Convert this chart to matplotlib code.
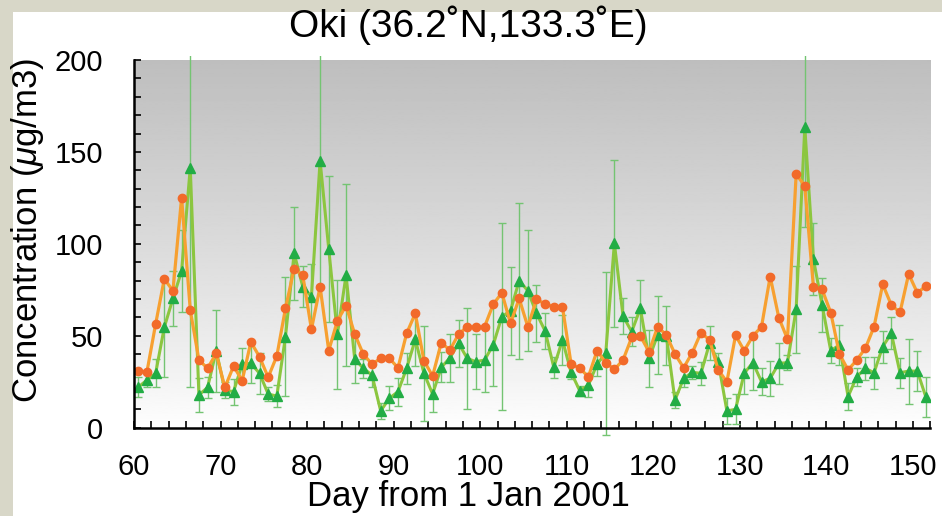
import numpy as np
import matplotlib
matplotlib.use("Agg")
import matplotlib.pyplot as plt
from matplotlib.patches import Rectangle
from matplotlib.ticker import MultipleLocator

plt.rcParams['font.family'] = ['Liberation Sans', 'DejaVu Sans']
plt.rcParams['mathtext.fontset'] = 'custom'
plt.rcParams['mathtext.it'] = 'Liberation Sans:italic'
plt.rcParams['mathtext.rm'] = 'Liberation Sans'

# daily means, day 60 .. 151 (plotted at mid-day)
days = np.arange(60.5, 152.0, 1.0)

model = [30.8, 30.5, 56.4, 80.9, 74.5, 125.1, 64.0, 36.8, 32.3, 40.4,
         21.9, 33.5, 25.6, 46.6, 38.6, 27.4, 39.0, 64.9, 86.5, 82.9,
         53.5, 76.7, 41.9, 58.2, 66.4, 50.9, 39.9, 34.6, 37.7, 37.7,
         32.6, 51.3, 62.2, 36.4, 28.1, 46.2, 42.2, 50.9, 54.9, 54.6,
         54.9, 67.1, 73.4, 56.7, 70.3, 54.9, 69.8, 67.3, 65.8, 65.8,
         34.6, 32.3, 27.7, 41.9, 35.4, 31.7, 36.8, 49.1, 49.9, 41.3,
         54.9, 50.4, 40.1, 32.6, 40.8, 51.7, 47.7, 31.4, 25.0, 50.2,
         41.9, 49.9, 54.9, 82.2, 59.8, 48.2, 137.8, 131.6, 76.3, 75.2,
         62.6, 40.1, 31.4, 36.8, 43.2, 54.9, 78.0, 66.7, 62.7, 83.6,
         73.4, 77.0]

obs = [22.1, 25.9, 29.6, 54.6, 70.3, 85.2, 141.4, 17.8, 21.9, 41.8,
       20.5, 19.6, 34.6, 35.0, 29.6, 18.3, 17.2, 49.5, 94.8, 76.7,
       71.3, 145.2, 97.2, 50.9, 83.0, 37.3, 32.3, 28.6, 9.1, 16.0,
       19.6, 32.3, 48.0, 29.6, 18.3, 32.8, 38.0, 45.9, 37.7, 35.9,
       36.8, 45.0, 60.4, 63.6, 80.0, 74.5, 62.2, 52.6, 32.8, 47.7,
       30.1, 20.1, 23.2, 34.6, 40.4, 100.3, 60.7, 52.2, 64.9, 37.7,
       50.4, 50.0, 15.0, 26.8, 30.1, 29.6, 45.9, 35.9, 9.1, 10.0,
       29.6, 35.4, 25.0, 26.8, 35.0, 35.4, 64.4, 163.4, 91.6, 66.7,
       41.9, 45.0, 16.9, 27.7, 32.3, 29.9, 44.1, 51.3, 29.9, 30.8,
       30.8, 16.5]

obs_err = [5.3, 3.5, 7.5, 27.0, 15.0, 22.4, 119.0, 9.2, 5.9, 22.2,
           4.5, 7.0, 8.6, 10.6, 11.0, 3.6, 6.1, 32.4, 25.4, 11.1,
           17.8, 67.6, 39.6, 29.6, 49.4, 13.0, 5.2, 6.6, 4.1, 6.5,
           7.7, 8.5, 14.5, 25.9, 9.6, 8.2, 13.2, 12.7, 27.5, 15.0,
           17.2, 22.3, 51.0, 24.0, 42.4, 32.9, 15.6, 9.8, 5.6, 13.4,
           3.4, 2.7, 6.3, 6.4, 44.5, 45.5, 10.0, 8.0, 15.7, 15.4,
           21.2, 16.0, 4.5, 4.5, 3.7, 6.4, 9.2, 4.5, 7.3, 8.2,
           11.3, 15.0, 7.3, 9.5, 11.0, 4.0, 23.6, 54.0, 19.6, 14.8,
           6.8, 10.9, 7.2, 5.0, 6.3, 8.6, 8.7, 8.7, 8.2, 17.7,
           10.7, 10.9]

fig = plt.figure(figsize=(9.42, 5.16), dpi=100, facecolor='#d8d7c8')
fig.patches.append(Rectangle((13 / 942, 0), 1, 1 - 12 / 516, transform=fig.transFigure,
                             facecolor='white', edgecolor='none', zorder=-5))

ax = fig.add_axes([134 / 942, 1 - 427.7 / 516, (930.3 - 134) / 942, (427.7 - 60) / 516])
ax.set_facecolor('none')
ax.set_xlim(60, 152)
ax.set_ylim(0, 200)

# grey-to-white background
grad = (1.0 - 0.255 * np.linspace(0, 1, 256) ** 0.85).reshape(-1, 1)
ax.imshow(grad, extent=[60, 152, 0, 200], origin='lower', aspect='auto',
          cmap='gray', vmin=0, vmax=1, zorder=0)

clip = Rectangle((0, -0.03), 1, 1.04, transform=ax.transAxes, facecolor='none')

eb = ax.errorbar(days, obs, yerr=obs_err, fmt='none', ecolor='#74c472',
                 elinewidth=1.0, capsize=3.2, capthick=1.0, zorder=2)
for art in list(eb.lines[1]) + list(eb.lines[2]):
    art.set_clip_path(clip)

ax.plot(days, obs, color='#8cc63f', linewidth=2.2, zorder=3)
ax.plot(days, obs, linestyle='none', marker='^', markersize=6.5,
        color='#22ad45', zorder=4)
ax.plot(days, model, color='#f7a030', linewidth=2.3, zorder=5)
ax.plot(days, model, linestyle='none', marker='o', markersize=6,
        color='#f26a2a', zorder=6)

for s in ['top', 'right']:
    ax.spines[s].set_visible(False)
for s in ['left', 'bottom']:
    ax.spines[s].set_linewidth(1.8)
    ax.spines[s].set_zorder(7)

ax.xaxis.set_major_locator(MultipleLocator(10))
ax.xaxis.set_minor_locator(MultipleLocator(2))
ax.yaxis.set_major_locator(MultipleLocator(50))
ax.yaxis.set_minor_locator(MultipleLocator(10))
ax.tick_params(which='both', direction='in', length=5, width=1.2, labelsize=21,
               top=False, right=False)
ax.tick_params(axis='x', pad=18)
ax.tick_params(axis='y', pad=22)

fig.text(0.497, 1 - 25 / 516, 'Oki (36.2˚N,133.3˚E)', ha='center', va='center', fontsize=28)
fig.text(0.497, 1 - 513 / 516, 'Day from 1 Jan 2001', ha='center', va='bottom', fontsize=25)
fig.text(28 / 942, 1 - 230 / 516, 'Concentration ($\\mu$g/m3)', ha='center', va='center',
         rotation=90, fontsize=25)

fig.savefig('out.png', dpi=100, facecolor=fig.get_facecolor())
